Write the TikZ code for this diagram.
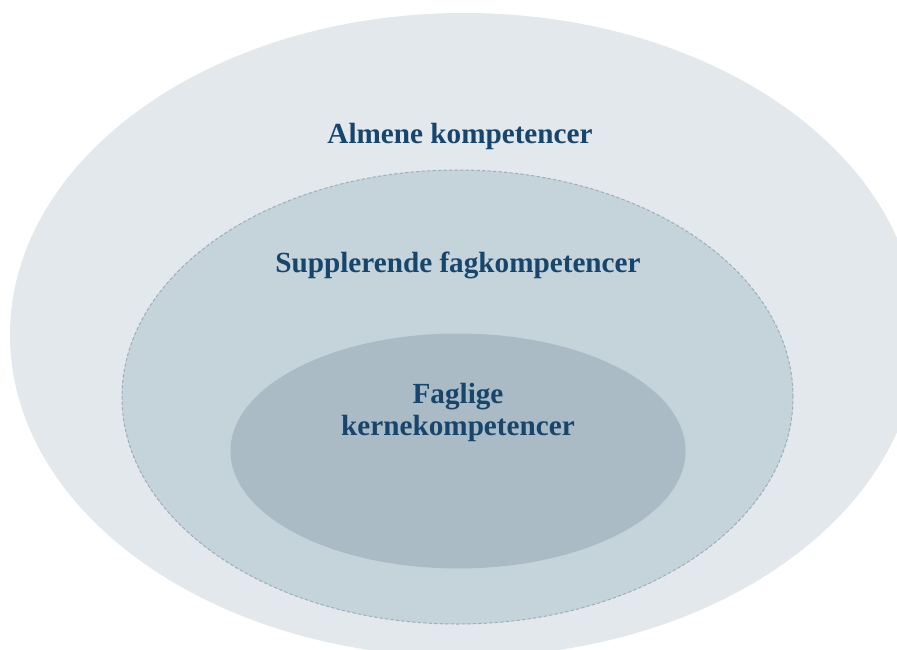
\documentclass[tikz,border=0pt]{standalone}
\usepackage{fontspec}
\setmainfont{Liberation Serif}
\usetikzlibrary{shapes.geometric}
\definecolor{outerfill}{HTML}{E2E8EC}
\definecolor{midfill}{HTML}{C5D3DB}
\definecolor{innerfill}{HTML}{AABBC6}
\definecolor{dashcol}{HTML}{9DAFBB}
\definecolor{txtcol}{HTML}{17456B}
\tikzset{
  ring/.style={ellipse, inner sep=0pt, outer sep=0pt},
  lbl/.style={font=\fontsize{29.2}{32}\selectfont\bfseries, text=txtcol, anchor=base, inner sep=0pt, align=center}
}
\begin{document}
\begin{tikzpicture}[x=1pt,y=-1pt]
\useasboundingbox (0,0) rectangle (897,650);
\clip (0,0) rectangle (897,650);
\node[ring, fill=outerfill, minimum width=908pt, minimum height=644pt] (outer) at (464,335) {};
\node[ring, fill=midfill, draw=dashcol, line width=1pt, dash pattern=on 3.5pt off 2pt, minimum width=671pt, minimum height=454pt] (mid) at (457.5,397) {};
\node[ring, fill=innerfill, minimum width=455pt, minimum height=235pt] (inner) at (458,451) {};
\node[lbl] (t1) at (460,143) {Almene kompetencer};
\node[lbl] (t2) at (458,272) {Supplerende fagkompetencer};
\node[lbl] (t3) at (458,403) {Faglige};
\node[lbl] (t4) at (458,435) {kernekompetencer};
\end{tikzpicture}
\end{document}
